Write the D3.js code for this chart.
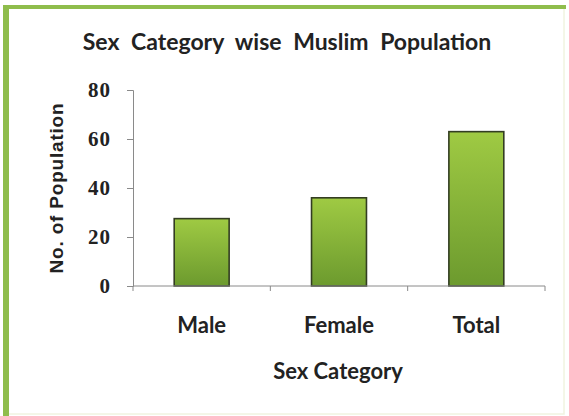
<!DOCTYPE html>
<html>
<head>
<meta charset="utf-8">
<script src="https://cdn.jsdelivr.net/npm/d3@7"></script>
<style>
  html, body { margin: 0; padding: 0; background: #fff; }
  svg { display: block; }
</style>
</head>
<body>
<script>
// Chart data
const categories = ["Male", "Female", "Total"];
const populationValues = [27.5, 36, 63];
const yTickValues = [0, 20, 40, 60, 80];

const W = 569, H = 416;
const svg = d3.select("body").append("svg").attr("width", W).attr("height", H);

// Frame
svg.append("rect").attr("x", 0).attr("y", 0).attr("width", W).attr("height", H).attr("fill", "#fff");
svg.append("rect").attr("x", 6).attr("y", 7).attr("width", 558).attr("height", 407)
  .attr("fill", "#fff").attr("stroke", "#f0f3e0").attr("stroke-width", 1.5);
svg.append("rect").attr("x", 3).attr("y", 5).attr("width", 563).attr("height", 4).attr("fill", "#8fbd4c");
svg.append("rect").attr("x", 3).attr("y", 5).attr("width", 6).attr("height", 411).attr("fill", "#8fbd4c");

const defs = svg.append("defs");
const grad = defs.append("linearGradient").attr("id", "barFill")
  .attr("x1", 0).attr("y1", 0).attr("x2", 0).attr("y2", 1);
grad.append("stop").attr("offset", "0%").attr("stop-color", "#9fca43");
grad.append("stop").attr("offset", "100%").attr("stop-color", "#6c9a2e");

const x = d3.scaleBand().domain(categories).range([133, 545]).paddingInner(0.6).paddingOuter(0.3);
const y = d3.scaleLinear().domain([0, 80]).range([286, 90]);

// Bars
svg.append("g").selectAll("rect").data(categories).join("rect")
  .attr("x", d => x(d))
  .attr("y", (d, i) => y(populationValues[i]))
  .attr("width", x.bandwidth())
  .attr("height", (d, i) => y(0) - y(populationValues[i]))
  .attr("fill", "url(#barFill)")
  .attr("stroke", "#333d22")
  .attr("stroke-width", 1.6);

// Y axis
const yAxis = svg.append("g").attr("transform", "translate(133,0)")
  .call(d3.axisLeft(y).tickValues(yTickValues).tickSize(6).tickPadding(16).tickFormat(d3.format("d")));
yAxis.select(".domain").attr("stroke", "#8a8a8a");
yAxis.selectAll(".tick line").attr("stroke", "#8a8a8a");
yAxis.selectAll(".tick text")
  .attr("font-family", "'Liberation Serif', serif")
  .attr("font-weight", "bold")
  .attr("font-size", 21)
  .attr("letter-spacing", 1)
  .attr("fill", "#222");

// X axis with ticks at band boundaries
const xAxis = svg.append("g").attr("transform", "translate(0,286)");
xAxis.append("line").attr("x1", 133).attr("x2", 545).attr("y1", 0).attr("y2", 0).attr("stroke", "#8a8a8a");
const boundaries = d3.range(categories.length + 1).map(i => 133 + i * (545 - 133) / categories.length);
xAxis.selectAll("line.tk").data(boundaries).join("line").attr("class", "tk")
  .attr("x1", d => d).attr("x2", d => d).attr("y1", 0).attr("y2", 5).attr("stroke", "#8a8a8a");
xAxis.selectAll("text").data(categories).join("text")
  .attr("x", d => x(d) + x.bandwidth() / 2)
  .attr("y", 47)
  .attr("text-anchor", "middle")
  .attr("font-family", "Lato, 'Open Sans', sans-serif")
  .attr("font-weight", "bold")
  .attr("font-size", 22)
  .attr("fill", "#222")
  .text(d => d);

// Titles
svg.append("text").attr("x", 287).attr("y", 50).attr("text-anchor", "middle")
  .attr("font-family", "Lato, 'Open Sans', sans-serif").attr("font-weight", "bold")
  .attr("font-size", 23).attr("word-spacing", 6).attr("fill", "#222")
  .text("Sex Category wise Muslim Population");

svg.append("text").attr("x", 338).attr("y", 379).attr("text-anchor", "middle")
  .attr("font-family", "Lato, 'Open Sans', sans-serif").attr("font-weight", "bold")
  .attr("font-size", 22).attr("fill", "#222")
  .text("Sex Category");

svg.append("text").attr("transform", "translate(63,188) rotate(-90)").attr("text-anchor", "middle")
  .attr("font-family", "'Liberation Sans', Arial, sans-serif").attr("font-weight", "bold")
  .attr("font-size", 19).attr("letter-spacing", 0.8).attr("fill", "#222")
  .text("No. of Population");
</script>
</body>
</html>
